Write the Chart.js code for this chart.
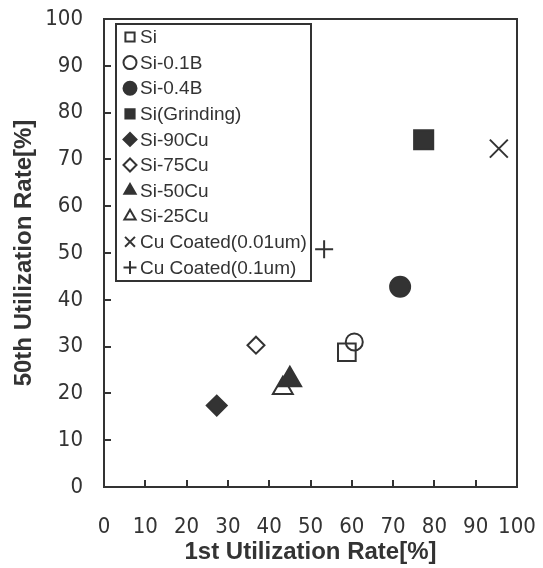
<!DOCTYPE html>
<html>
<head>
<meta charset="utf-8">
<script src="https://cdn.jsdelivr.net/npm/chart.js@4/dist/chart.umd.min.js"></script>
<style>
  html, body { margin: 0; padding: 0; background: #fff; }
  #wrap { width: 543px; height: 568px; }
</style>
</head>
<body>
<div id="wrap"><canvas id="chart" width="543" height="568"></canvas></div>
<script>
// series: [1st rate, 50th rate]
const labels = ['Si', 'Si-0.1B', 'Si-0.4B', 'Si(Grinding)', 'Si-90Cu', 'Si-75Cu',
                'Si-50Cu', 'Si-25Cu', 'Cu Coated(0.01um)', 'Cu Coated(0.1um)'];
const firstRate = [58.8, 60.6, 71.7, 77.4, 27.3, 36.8, 45.0, 43.3, 95.6, 53.3];
const fiftiethRate = [28.8, 31.0, 42.8, 74.2, 17.4, 30.3, 22.9, 21.1, 72.3, 50.8];
const xTicks = [0, 10, 20, 30, 40, 50, 60, 70, 80, 90, 100];
const yTicks = [0, 10, 20, 30, 40, 50, 60, 70, 80, 90, 100];

const INK = '#333333';
const TICK_FONT = "'DejaVu Sans Condensed', 'Liberation Sans', sans-serif";

// marker look for each series
const markers = [
  {style: 'rect',     radius: 12.5, fill: false},
  {style: 'circle',   radius: 8.5,  fill: false},
  {style: 'circle',   radius: 10,   fill: true},
  {style: 'rect',     radius: 13.5, fill: true},
  {style: 'rectRot',  radius: 10,   fill: true},
  {style: 'rectRot',  radius: 8.5,  fill: false},
  {style: 'triangle', radius: 13,   fill: true},
  {style: 'triangle', radius: 11.5, fill: false},
  {style: 'crossRot', radius: 12.7, fill: false},
  {style: 'cross',    radius: 9,    fill: false}
];

const datasets = labels.map((name, i) => ({
  label: name,
  data: [{x: firstRate[i], y: fiftiethRate[i]}],
  pointStyle: markers[i].style,
  pointRadius: markers[i].radius,
  pointHoverRadius: markers[i].radius,
  pointBorderWidth: 2,
  pointBorderColor: INK,
  pointBackgroundColor: markers[i].fill ? INK : 'rgba(0,0,0,0)',
  showLine: false
}));

// frame round the plot + short inward tick marks
const framePlugin = {
  id: 'frame',
  afterDatasetsDraw(chart) {
    const {ctx, chartArea: a, scales} = chart;
    ctx.save();
    ctx.strokeStyle = INK;
    ctx.lineWidth = 2;
    ctx.strokeRect(a.left, a.top, a.right - a.left, a.bottom - a.top);
    ctx.beginPath();
    scales.x.ticks.forEach(t => {
      if (t.value <= 0 || t.value >= 100) return;
      const px = Math.round(scales.x.getPixelForValue(t.value));
      ctx.moveTo(px, a.bottom);
      ctx.lineTo(px, a.bottom - 7);
    });
    scales.y.ticks.forEach(t => {
      if (t.value <= 0 || t.value >= 100) return;
      const py = Math.round(scales.y.getPixelForValue(t.value));
      ctx.moveTo(a.left, py);
      ctx.lineTo(a.left + 7, py);
    });
    ctx.stroke();
    ctx.restore();
  }
};

// boxed legend inside the upper left of the plot
const boxLegend = {
  id: 'boxLegend',
  afterDraw(chart) {
    const {ctx, chartArea: a} = chart;
    const left = a.left + 12, top = a.top + 5, w = 195, h = 257;
    const row = 25.6;
    ctx.save();
    ctx.fillStyle = '#fff';
    ctx.fillRect(left, top, w, h);
    ctx.strokeStyle = INK;
    ctx.lineWidth = 2;
    ctx.strokeRect(left, top, w, h);
    ctx.font = "19px 'Liberation Sans', Arial, sans-serif";
    ctx.textBaseline = 'middle';
    chart.data.datasets.forEach((ds, i) => {
      const cy = top + 13 + i * row;
      ctx.fillStyle = ds.pointBackgroundColor;
      ctx.strokeStyle = INK;
      ctx.lineWidth = 2;
      Chart.helpers.drawPoint(ctx, {
        pointStyle: ds.pointStyle,
        radius: ds.pointStyle === 'crossRot' ? 7 : 6.5,
        borderWidth: 2,
        rotation: 0
      }, left + 14, cy);
      ctx.fillStyle = INK;
      ctx.fillText(ds.label, left + 24, cy + 1);
    });
    ctx.restore();
  }
};

new Chart(document.getElementById('chart'), {
  type: 'scatter',
  data: {datasets: datasets},
  options: {
    responsive: false,
    animation: false,
    events: [],
    layout: {padding: {left: 0, right: 26, top: 19, bottom: 0}},
    plugins: {legend: {display: false}, tooltip: {enabled: false}},
    scales: {
      x: {
        type: 'linear',
        min: 0, max: 100,
        afterBuildTicks: s => { s.ticks = xTicks.map(v => ({value: v})); },
        afterFit: s => { s.height = 81; s.paddingLeft = 0; s.paddingRight = 0; },
        grid: {display: false, drawTicks: false},
        border: {display: false},
        ticks: {color: INK, padding: 27, maxRotation: 0, font: {family: TICK_FONT, size: 22}},
        title: {display: true, text: '1st Utilization Rate[%]', color: INK,
                padding: {top: 0, bottom: 1},
                font: {family: "'Liberation Sans', Arial, sans-serif", size: 24, weight: 'bold'}}
      },
      y: {
        type: 'linear',
        min: 0, max: 100,
        afterBuildTicks: s => { s.ticks = yTicks.map(v => ({value: v})); },
        afterFit: s => { s.width = 104; s.paddingTop = 0; s.paddingBottom = 0; },
        grid: {display: false, drawTicks: false},
        border: {display: false},
        ticks: {color: INK, padding: 21, font: {family: TICK_FONT, size: 22}},
        title: {display: true, text: '50th Utilization Rate[%]', color: INK,
                padding: {top: 10, bottom: 0},
                font: {family: "'Liberation Sans', Arial, sans-serif", size: 24, weight: 'bold'}}
      }
    }
  },
  plugins: [framePlugin, boxLegend]
});
</script>
</body>
</html>
